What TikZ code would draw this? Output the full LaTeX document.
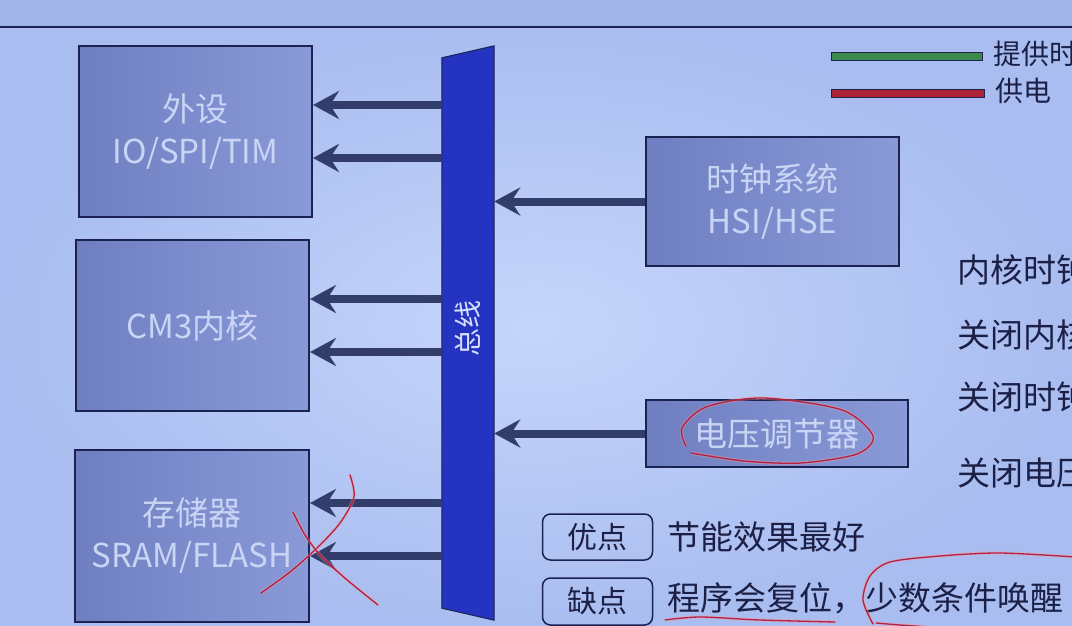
\documentclass[tikz,border=0pt]{standalone}
\usepackage{fontspec}
\setmainfont{Noto Sans CJK SC}
\usetikzlibrary{arrows.meta,positioning}

\definecolor{bgtop}{HTML}{A0B4EA}
\definecolor{bgdark}{HTML}{A9BDF0}
\definecolor{bglight}{HTML}{C6D5FA}
\definecolor{navy}{HTML}{1B2150}
\definecolor{arrowblue}{HTML}{333D6B}
\definecolor{boxdark}{HTML}{6E7EC0}
\definecolor{boxlight}{HTML}{8A9AD8}
\definecolor{boxtext}{HTML}{CAD5F5}
\definecolor{busblue}{HTML}{2434C0}
\definecolor{bustext}{HTML}{D6DEFF}
\definecolor{inkred}{HTML}{B51F40}
\definecolor{legendgreen}{HTML}{3C8A4C}
\definecolor{legendred}{HTML}{AE2434}
\definecolor{darktext}{HTML}{1C2046}

\begin{document}
\begin{tikzpicture}[x=1pt,y=-1pt]
			\tikzstyle{block}=[draw=navy, line width=2pt, left color=boxdark, right color=boxlight, text=boxtext, align=center, inner sep=0pt, font=\fontsize{33}{42}\selectfont]
			\tikzstyle{flow}=[draw=arrowblue, line width=8pt, -{Stealth[length=26pt,width=28pt,inset=9pt,fill=arrowblue]}]
			\tikzstyle{tag}=[draw=navy, line width=1.5pt, rounded corners=8pt, minimum width=110pt, text=darktext, inner sep=0pt, font=\fontsize{30}{36}\selectfont]
			\tikzstyle{note}=[anchor=west, text=darktext, inner sep=0pt, font=\fontsize{33}{38}\selectfont]
			\tikzstyle{legend}=[draw=navy, line width=0.8pt]
			\tikzstyle{ink}=[draw=inkred, line width=1.3pt, line cap=round, preaction={draw=pink!80!red, opacity=0.35, line width=3.5pt}]
			
			% Page and background
			\clip (0,0) rectangle (1072,626);
			\fill[bgtop] (0,0) rectangle (1072,27);
			\shade[inner color=bglight, outer color=bgdark] (0,27) rectangle (1072,626);
			\draw[navy, line width=2pt] (0,27) -- (1072,27);
			
			% Draw the blocks on the left
			\node[block, minimum width=233pt, minimum height=171pt] (periph) at (195.5,131.5) {外设\\IO/SPI/TIM};
			\node[block, minimum width=233pt, minimum height=171pt] (core) at (192.5,325.5) {CM3内核};
			\node[block, minimum width=234pt, minimum height=172pt] (mem) at (192,536) {存储器\\SRAM/FLASH};
			
			% Draw the blocks on the right
			\node[block, minimum width=253pt, minimum height=129pt] (clk) at (772.5,201.5) {时钟系统\\HSI/HSE};
			\node[block, minimum width=262pt, minimum height=67pt] (ldo) at (777,433.5) {电压调节器};
			
			% Draw the bus
			\node[minimum width=52pt, minimum height=574pt, inner sep=0pt] (bus) at (468,333) {};
			\filldraw[fill=busblue, draw=navy, line width=1pt]
			(bus.north east) -- (bus.south east) -- ([yshift=12pt]bus.south west) -- ([yshift=-12pt]bus.north west) -- cycle;
			\node[rotate=90, text=bustext, font=\fontsize{28}{32}\selectfont] (bus-label) at (468,328) {总线};
			
			% Connect the bus with every block on the left
			\foreach \dest / \y in {periph/105, periph/158, core/299, core/352, mem/503, mem/556}
			\draw[flow] (bus.west |- 0,\y) -- (\dest.east |- 0,\y);
			
			% Connect the clock and the regulator with the bus
			\draw[flow] (clk.west) -- (bus.east |- clk.west);
			\draw[flow] (ldo.west) -- (bus.east |- ldo.west);
			
			% Legend
			\filldraw[legend, fill=legendgreen] (831,52) rectangle (982,60);
			\filldraw[legend, fill=legendred] (831,89) rectangle (984,97);
			\node[note, font=\fontsize{28}{32}\selectfont] (leg-clk) at (993,54) {提供时钟};
			\node[note, font=\fontsize{28}{32}\selectfont] (leg-pwr) at (995,91) {供电};
			
			% Notes on the right
			\node[note] (n-1) at (957,270) {内核时钟};
			\node[note] (n-2) at (957,335) {关闭内核};
			\node[note] (n-3) at (957,397) {关闭时钟};
			\node[note] (n-4) at (957,473) {关闭电压};
			
			% Pros and cons
			\node[tag, minimum height=46pt] (pro) at (597.5,537) {优点};
			\node[tag, minimum height=47pt] (con) at (597.5,601.5) {缺点};
			\node[note] (pro-text) at (667,537) {节能效果最好};
			\node[note] (con-text) at (667,598) {程序会复位，少数条件唤醒};
			
			% Pen marks
			\draw[ink] plot[smooth] coordinates {(691,453) (744,461) (801,463) (857,454) (873,436) (842,410) (763,398) (706,407) (682,428) (686,446)};
			\draw[ink] plot[smooth] coordinates {(350,475) (354,497) (340,523) (317,548) (290,572) (261,593)};
			\draw[ink] plot[smooth] coordinates {(293,512) (305,535) (321,556) (346,579) (378,605)};
			\draw[ink] plot[smooth] coordinates {(665,620) (700,617) (760,620) (835,622)};
			\draw[ink] plot[smooth] coordinates {(873,624) (863,600) (870,576) (890,562) (940,556) (1000,553) (1075,557)};
			\draw[ink] plot[smooth] coordinates {(876,623) (900,625) (930,627)};
		\end{tikzpicture}
\end{document}
